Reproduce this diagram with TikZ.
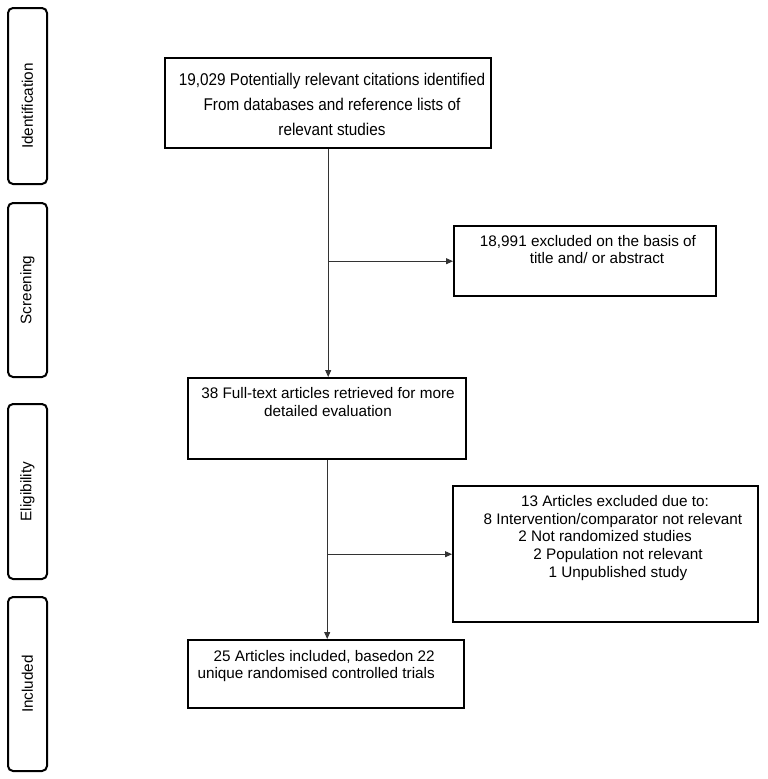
\documentclass[tikz,border=0pt]{standalone}
\usepackage{fontspec}
\setmainfont{Liberation Sans}
\newfontfamily\narrowfont[FakeStretch=0.9]{Liberation Sans}
\usetikzlibrary{arrows.meta}
\begin{document}
\begin{tikzpicture}[x=1pt,y=-1pt,
  box/.style={draw=black, line width=2.4pt, inner sep=0pt, anchor=north west},
  stage/.style={draw=black, line width=2pt, rounded corners=5pt, inner sep=0pt, rotate=90, font=\fontsize{15.3}{17}\selectfont},
  txt/.style={inner sep=0pt, align=center},
  conn/.style={draw=black!80, line width=0.9pt},
  arr/.style={conn, -{Triangle[length=7pt,width=6pt]}}]
\fill[white] (0,0) rectangle (768,779);
\useasboundingbox (0,0) rectangle (768,779);

% stage labels
\node[stage, minimum width=176pt, minimum height=39pt] (s1) at (27.5,96) {Identification\kern20pt};
\node[stage, minimum width=174pt, minimum height=39pt] (s2) at (27.5,290) {Screening};
\node[stage, minimum width=175pt, minimum height=39pt] (s3) at (27.5,491.5) {Eligibility};
\node[stage, minimum width=174pt, minimum height=39pt] (s4) at (27.5,684) {Included};

% boxes
\node[box, minimum width=326pt, minimum height=90pt] (b1) at (164,57) {};
\node[box, minimum width=262pt, minimum height=70pt] (b2) at (453,225) {};
\node[box, minimum width=278pt, minimum height=81pt] (b3) at (187,377) {};
\node[box, minimum width=305pt, minimum height=136pt] (b4) at (452,485) {};
\node[box, minimum width=276pt, minimum height=68pt] (b5) at (187,639) {};

% texts
\node[txt, font=\narrowfont\fontsize{17}{25}\selectfont] (t1) at (332,104)
  {19,029 Potentially relevant citations identified\\From databases and reference lists of\\relevant studies};
\node[txt, font=\fontsize{15.3}{17}\selectfont] (t2) at (597,250)
  {18,991 excluded on the basis of\kern18pt\\title and/ or abstract};
\node[txt, font=\fontsize{15.3}{18}\selectfont] (t3) at (328,402.5)
  {38 Full-text articles retrieved for more\\detailed evaluation};
\node[txt, font=\fontsize{15.3}{17.7}\selectfont] (t4) at (613,538)
  {\kern4pt 13 Articles excluded due to:\\8 Intervention/comparator not relevant\\2 Not randomized studies\kern16pt\\\kern10pt 2 Population not relevant\\\kern10pt 1 Unpublished study};
\node[txt, align=right, anchor=east, font=\fontsize{15.3}{16.5}\selectfont] (t5) at (435,666)
  {25 Articles included, basedon 22\\unique randomised controlled trials};

% connectors
\coordinate (j1) at (b1.south |- b2.west);
\coordinate (j2) at (b3.south |- b4.west);
\draw[arr] (b1.south) -- (b1.south |- b3.north);
\draw[arr] (j1) -- (b2.west);
\draw[arr] (b3.south) -- (b3.south |- b5.north);
\draw[arr] (j2) -- (b4.west);
\end{tikzpicture}
\end{document}
